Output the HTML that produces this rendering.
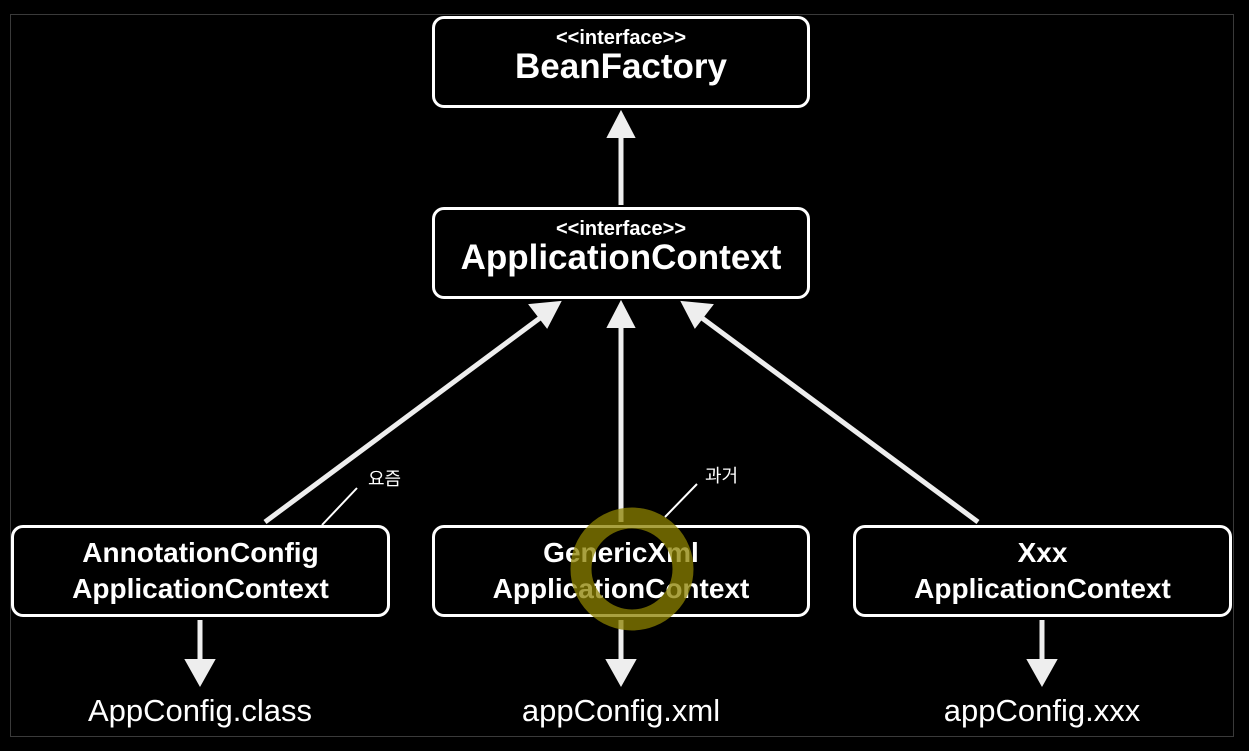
<!DOCTYPE html>
<html><head><meta charset="utf-8"><style>
body{margin:0;background:#000;width:1249px;height:751px;overflow:hidden;position:relative;font-family:"Liberation Sans","Noto Sans CJK KR",sans-serif;color:#fff}
.frame{position:absolute;left:10px;top:14px;width:1222px;height:721px;border:1px solid #3a3a3a}
.box{position:absolute;border:3px solid #fff;border-radius:12px;box-sizing:border-box;text-align:center;display:flex;flex-direction:column;justify-content:center;align-items:center}
.top{padding-bottom:10px}
.s{font-size:20px;font-weight:bold;line-height:20px}
.b{font-size:35px;font-weight:bold;line-height:38px}
.m{font-size:28px;font-weight:bold;line-height:36px}
.l{position:absolute;font-size:31px;text-align:center;width:300px}
</style></head><body>
<div class="frame"></div>
<div class="box top" style="left:432px;top:16px;width:378px;height:92px"><div class="s">&lt;&lt;interface&gt;&gt;</div><div class="b">BeanFactory</div></div>
<div class="box top" style="left:432px;top:207px;width:378px;height:92px"><div class="s">&lt;&lt;interface&gt;&gt;</div><div class="b">ApplicationContext</div></div>
<div class="box" style="left:11px;top:525px;width:379px;height:92px"><div class="m">AnnotationConfig<br>ApplicationContext</div></div>
<div class="box" style="left:432px;top:525px;width:378px;height:92px"><div class="m">GenericXml<br>ApplicationContext</div></div>
<div class="box" style="left:853px;top:525px;width:379px;height:92px"><div class="m">Xxx<br>ApplicationContext</div></div>
<div class="l" style="left:50px;top:693px">AppConfig.class</div>
<div class="l" style="left:471px;top:693px">appConfig.xml</div>
<div class="l" style="left:892px;top:693px">appConfig.xxx</div>
<svg width="1249" height="751" style="position:absolute;left:0;top:0">
<g stroke="#eee" stroke-width="5" fill="#eee">
<line x1="621" y1="205" x2="621" y2="135"/>
<polygon points="608,137 634,137 621,112" stroke-width="2"/>
<line x1="621" y1="522" x2="621" y2="325"/>
<polygon points="608,327 634,327 621,302" stroke-width="2"/>
<line x1="265" y1="522" x2="540" y2="318"/>
<polygon points="530,305 547,327 560,302" stroke-width="2"/>
<line x1="978" y1="522" x2="702" y2="318"/>
<polygon points="712,305 695,327 682,302" stroke-width="2"/>
<line x1="200" y1="620" x2="200" y2="665"/>
<polygon points="186,660 214,660 200,685" stroke-width="2"/>
<line x1="621" y1="620" x2="621" y2="665"/>
<polygon points="607,660 635,660 621,685" stroke-width="2"/>
<line x1="1042" y1="620" x2="1042" y2="665"/>
<polygon points="1028,660 1056,660 1042,685" stroke-width="2"/>
</g>
<line x1="322" y1="525" x2="357" y2="488" stroke="#fff" stroke-width="2"/>
<line x1="665" y1="517" x2="697" y2="484" stroke="#fff" stroke-width="2"/>
<text x="368" y="485" fill="#fff" font-size="18" font-family="Noto Sans CJK KR,sans-serif">요즘</text>
<text x="705" y="482" fill="#fff" font-size="18" font-family="Noto Sans CJK KR,sans-serif">과거</text>
<circle cx="632" cy="569" r="51" fill="none" stroke="rgb(140,130,0)" stroke-opacity="0.75" stroke-width="21"/>
</svg>
</body></html>
